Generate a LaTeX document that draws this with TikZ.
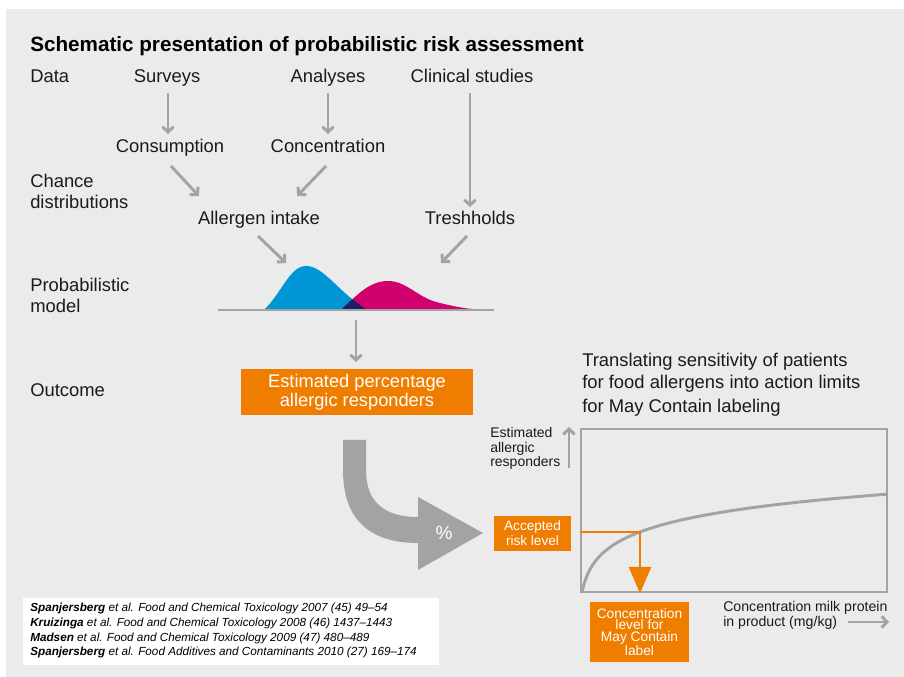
\documentclass[tikz,border=0pt]{standalone}
\usepackage{fontspec}
\setmainfont{Liberation Sans}
\usetikzlibrary{arrows.meta,calc}
\definecolor{bggrey}{HTML}{EBEBEB}
\definecolor{argrey}{HTML}{A3A3A3}
\definecolor{orng}{HTML}{EF7D00}
\definecolor{blu}{HTML}{0095D5}
\definecolor{mag}{HTML}{D1006F}
\definecolor{navy}{HTML}{1D1F5E}
\definecolor{txt}{HTML}{1A1A1A}
\begin{document}
\begin{tikzpicture}[x=0.75pt,y=-0.75pt,
  lbl/.style={font=\fontsize{13.8}{15.75}\selectfont, text=txt, inner sep=0pt, anchor=base, text height=9.5pt, text depth=2.8pt},
  lbll/.style={lbl, anchor=base west},
  mlbl/.style={font=\fontsize{13.8}{15.75}\selectfont, text=txt, inner sep=0pt, anchor=base west, align=left},
  arr/.style={draw=argrey, line width=2.2pt, -{Straight Barb[length=4pt,width=8.5pt]}},
  obox/.style={fill=orng, text=white, inner sep=0pt, align=center},
  grline/.style={draw=argrey, line width=2.2pt},
  orline/.style={draw=orng, line width=2.2pt}
]
\fill[white] (0,0) rectangle (904,677);
\fill[bggrey] (6,9) rectangle (904,677);
\useasboundingbox (0,0) rectangle (904,677);

% title
\node[anchor=base west, inner sep=0pt, text=black, font=\bfseries\fontsize{15.5}{18}\selectfont] (title) at (30,52) {Schematic presentation of probabilistic risk assessment};

% left labels (multi-line nodes: base = last line)
\node[lbll] (data) at (30,83) {Data};
\node[mlbl] (chance) at (30,209) {Chance\\distributions};
\node[mlbl] (probm) at (30,313) {Probabilistic\\model};
\node[lbll] (outcl) at (30,397) {Outcome};

% flow labels
\node[lbl] (surv) at (167,83) {Surveys};
\node[lbl] (anal) at (328,83) {Analyses};
\node[lbl] (clin) at (472,83) {Clinical studies};
\node[lbl] (cons) at (170,153) {Consumption};
\node[lbl] (conc) at (328,153) {Concentration};
\node[lbl] (alint) at (259,225) {Allergen intake};
\node[lbl] (tresh) at (470,225) {Treshholds};

% arrows
\draw[arr, shorten <=4.5pt, shorten >=4.5pt] (surv.south -| 168,0) -- (cons.north -| 168,0);
\draw[arr, shorten <=4.5pt, shorten >=4.5pt] (anal.south) -- (conc.north);
\draw[arr, shorten <=4.5pt] (tresh.north |- clin.south) -- ($(tresh.north)+(0,-5)$);
\draw[arr] ($(cons.south)+(1,9)$) -- ($(alint.north west)+(1,-16)$);
\draw[arr] ($(conc.south)+(-2,9)$) -- ($(alint.north east)+(-23,-16)$);

% distributions
\coordinate (dl) at (286,263);
\coordinate (dr) at (441,263);
\coordinate (basel) at (218,310);
\coordinate (baser) at (494,310);
\draw[arr] ($(alint.south)+(-1,7)$) -- (dl);
\draw[arr] ($(tresh.south)+(-3,7)$) -- (dr);
\def\bluepath{(265,309) .. controls (282,292) and (290,266) .. (306,266) .. controls (324,266) and (338,292) .. (366,309) -- cycle}
\def\magpath{(342,309) .. controls (358,294) and (370,281) .. (388,281) .. controls (406,281) and (416,296) .. (436,302) .. controls (452,306) and (462,308) .. (472,309) -- cycle}
\fill[blu] \bluepath;
\fill[mag] \magpath;
\begin{scope}
  \clip \bluepath;
  \fill[navy] \magpath;
\end{scope}
\draw[grline] (basel) -- (baser);

% outcome
\node[obox, minimum width=174pt, minimum height=34.5pt, font=\fontsize{13.7}{14.25}\selectfont] (outc) at (357,392) {Estimated percentage\\allergic responders};
\coordinate (basem) at (356,310);
\draw[arr, shorten <=7.5pt, shorten >=5pt] (basem) -- (basem |- outc.north);

% big curved arrow
\fill[argrey] (343,440) -- (343,470) .. controls (343,520) and (370,543) .. (418,543)
   -- (418,570) -- (483,533) -- (418,497) -- (418,517)
   .. controls (382,517) and (366,500) .. (366,470) -- (366,440) -- cycle;
\node[text=white, inner sep=0pt, font=\fontsize{14.3}{16}\selectfont] (pct) at (444,533) {\%};

% right heading
\node[anchor=base west, inner sep=0pt, text=txt, align=left, font=\fontsize{13.8}{17.25}\selectfont] (trans) at (582,412) {Translating sensitivity of patients\\for food allergens into action limits\\for May Contain labeling};

% chart
\node[draw=argrey, line width=2.2pt, minimum width=229.5pt, minimum height=122.25pt, inner sep=0pt] (chart) at (734,510.5) {};
\draw[grline] plot[domain=0:305, samples=120, variable=\t] ({582+\t},{592-23.7*ln(1+\t/5)});
\node[anchor=base west, inner sep=0pt, text=txt, align=left, font=\fontsize{10.5}{10.9}\selectfont] (ylab) at (490,467) {Estimated\\allergic\\responders};
\coordinate (ya) at (569,468);
\coordinate (yb) at (569,427);
\draw[arr] (ya) -- (yb);

\node[obox, minimum width=57.75pt, minimum height=26.25pt, font=\fontsize{10.2}{11.25}\selectfont] (acc) at (532.5,533.5) {Accepted\\risk level};
\coordinate (hit) at (640,532);
\draw[orline] (chart.west |- hit) -- (hit);
\draw[orline, -{Triangle[length=20pt,width=16.5pt]}] (hit) -- (hit |- chart.south);

\node[obox, minimum width=74.25pt, minimum height=45pt, font=\fontsize{10.3}{8.8}\selectfont] (concl) at (639.5,632) {Concentration\\level for\\May Contain\\label};

\node[anchor=base west, inner sep=0pt, text=txt, align=left, font=\fontsize{10.6}{9}\selectfont] (xlab) at (723,626) {Concentration milk protein\\in product (mg/kg)};
\coordinate (xa) at (848,622);
\coordinate (xb) at (889,622);
\draw[arr] (xa) -- (xb);

% references
\node[fill=white, minimum width=312pt, minimum height=50pt, inner sep=0pt, anchor=north west] (refbox) at (23,598) {};
\node[anchor=north west, inner sep=0pt, text=black, align=left, font=\itshape\fontsize{8.8}{11}\selectfont] (refs) at (30,603)
 {\textbf{Spanjersberg} et al. Food and Chemical Toxicology 2007 (45) 49–54\\
  \textbf{Kruizinga} et al. Food and Chemical Toxicology 2008 (46) 1437–1443\\
  \textbf{Madsen} et al. Food and Chemical Toxicology 2009 (47) 480–489\\
  \textbf{Spanjersberg} et al. Food Additives and Contaminants 2010 (27) 169–174};
\end{tikzpicture}
\end{document}
